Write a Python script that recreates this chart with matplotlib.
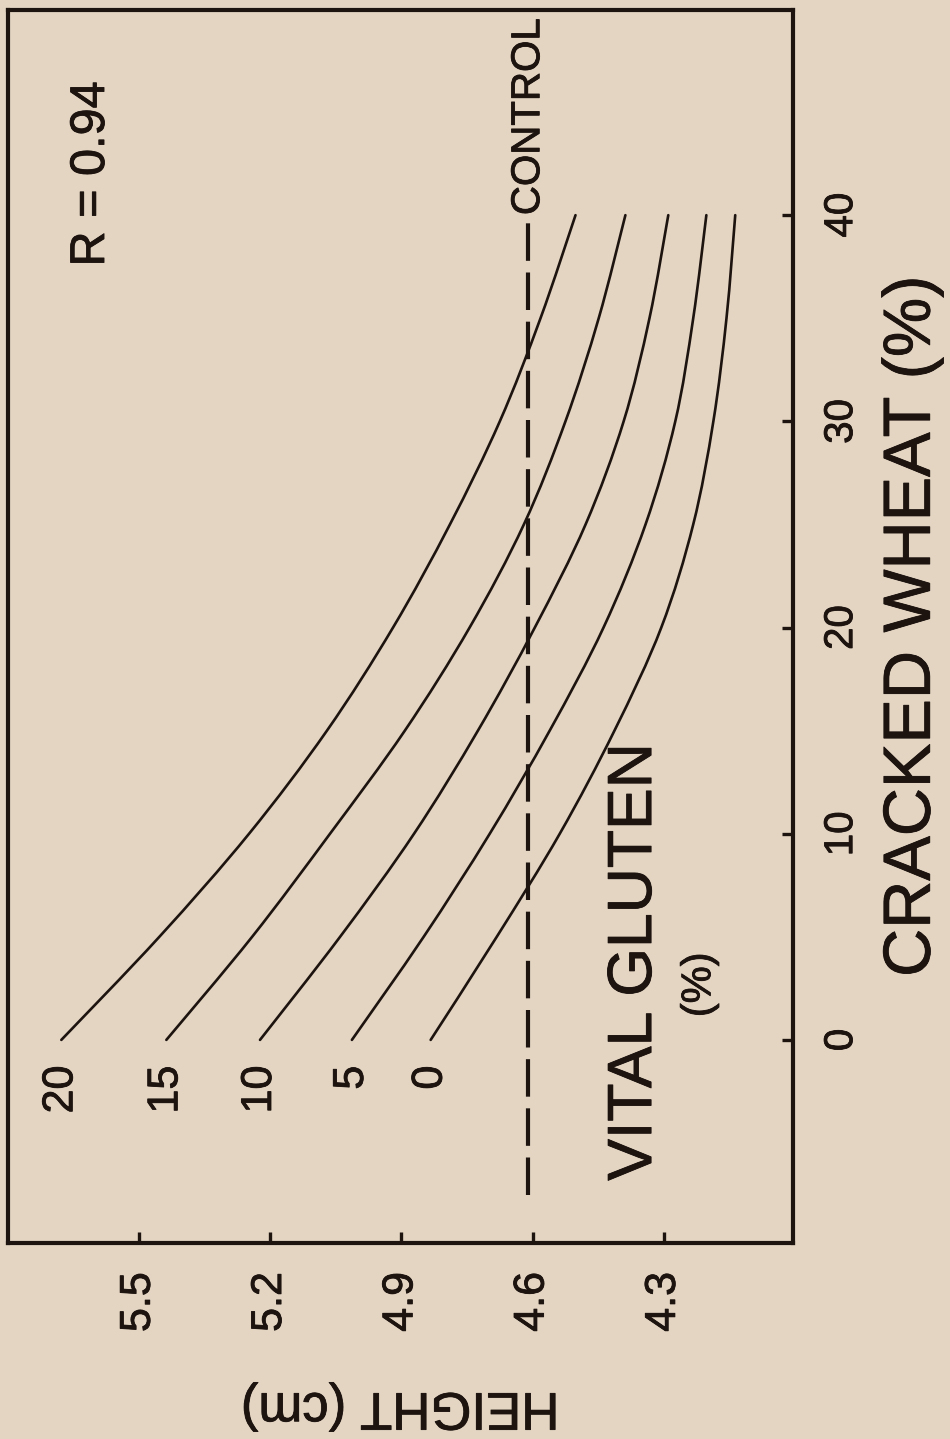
import matplotlib
matplotlib.use("Agg")
import matplotlib.pyplot as plt
import matplotlib.patheffects as pe
from matplotlib.path import Path
from matplotlib.patches import PathPatch

# Cracked wheat level (%), shared by every response curve
wheat_pct = [0, 5, 10, 15, 20, 25, 30, 35, 40]

# Predicted loaf height (cm) for each vital gluten level (%)
gluten_levels = ["20", "15", "10", "5", "0"]
height_g20 = [5.677, 5.453, 5.248, 5.070, 4.919, 4.789, 4.675, 4.582, 4.502]
height_g15 = [5.437, 5.241, 5.063, 4.892, 4.744, 4.620, 4.525, 4.449, 4.388]
height_g10 = [5.223, 5.040, 4.871, 4.725, 4.595, 4.479, 4.392, 4.333, 4.290]
height_g5 = [5.013, 4.849, 4.698, 4.561, 4.438, 4.342, 4.274, 4.233, 4.203]
height_g0 = [4.833, 4.682, 4.538, 4.413, 4.306, 4.233, 4.187, 4.157, 4.137]

control_height = 4.61
control_span = [-7.5, 40]
r_value = 0.94

height_ticks = [5.5, 5.2, 4.9, 4.6, 4.3]
wheat_ticks = [0, 10, 20, 30, 40]

BG = "#e3d5c2"
INK = "#1d130f"

plt.rcParams["font.family"] = ["Liberation Sans", "DejaVu Sans"]

# slightly heavier lettering
HEAVY = [pe.withStroke(linewidth=0.6, foreground=INK)]


def smooth_path(xs, ys):
    """Cubic Bezier path passing through every (x, y) point (Catmull-Rom)."""
    pts = list(zip(xs, ys))
    n = len(pts)
    verts = [pts[0]]
    codes = [Path.MOVETO]
    for i in range(n - 1):
        p0 = pts[i - 1] if i > 0 else pts[i]
        p1 = pts[i]
        p2 = pts[i + 1]
        p3 = pts[i + 2] if i + 2 < n else pts[i + 1]
        c1 = (p1[0] + (p2[0] - p0[0]) / 6, p1[1] + (p2[1] - p0[1]) / 6)
        c2 = (p2[0] - (p3[0] - p1[0]) / 6, p2[1] - (p3[1] - p1[1]) / 6)
        verts += [c1, c2, p2]
        codes += [Path.CURVE4] * 3
    return Path(verts, codes)


fig = plt.figure(figsize=(9.5, 14.39), dpi=100)
fig.patch.set_facecolor(BG)
W, H = 950, 1439
ax = fig.add_axes([7.5 / W, (H - 1243) / H, (793 - 7.5) / W, (1243 - 10) / H])
ax.set_facecolor(BG)

# Height runs along the horizontal axis (decreasing to the right),
# cracked wheat runs upward, all lettering turned a quarter turn.
ax.set_xlim(5.80, 4.005)
ax.set_ylim(-9.85, 49.95)

curves = [height_g20, height_g15, height_g10, height_g5, height_g0]
for level, heights in zip(gluten_levels, curves):
    ax.add_patch(PathPatch(smooth_path(heights, wheat_pct), fill=False,
                           edgecolor=INK, lw=1.9, capstyle="round"))
    ax.text(heights[0], -1.25, level, rotation=90, ha="center", va="top",
            fontsize=31, color=INK, path_effects=HEAVY)

ax.plot([control_height, control_height], control_span, color=INK, lw=3.0,
        linestyle=(0, (9, 2.8)))
ax.text(control_height, 40.0, "CONTROL", rotation=90, ha="center",
        va="bottom", fontsize=29, color=INK, path_effects=HEAVY)

ax.text(4.367, 3.78, "VITAL GLUTEN", rotation=90, ha="center", va="center",
        fontsize=45, color=INK, path_effects=HEAVY)
ax.text(4.219, 2.67, "(%)", rotation=90, ha="center", va="center",
        fontsize=30, color=INK, path_effects=HEAVY)
ax.text(5.608, 42.0, f"R = {r_value:.2f}", rotation=90, ha="center",
        va="center", fontsize=35, color=INK, path_effects=HEAVY)

for side in ax.spines.values():
    side.set_linewidth(3.0)
    side.set_color(INK)

ax.set_xticks(height_ticks)
ax.set_xticklabels([f"{v:.1f}" for v in height_ticks])
ax.yaxis.tick_right()
ax.set_yticks(wheat_ticks)
ax.set_yticklabels([str(v) for v in wheat_ticks])
ax.tick_params(axis="both", direction="in", length=8, width=2.4, color=INK,
               labelcolor=INK)
ax.tick_params(axis="x", labelrotation=90, labelsize=31, pad=21)
ax.tick_params(axis="y", labelrotation=90, labelsize=29, pad=21)
for lbl in ax.get_yticklabels():
    lbl.set_va("center")
for lbl in ax.get_xticklabels() + ax.get_yticklabels():
    lbl.set_path_effects(HEAVY)

ax.set_xlabel("HEIGHT (cm)", rotation=180, fontsize=38, color=INK)
ax.xaxis.set_label_coords(0.5, -0.113)
ax.yaxis.set_label_position("right")
ax.set_ylabel("CRACKED WHEAT (%)", rotation=90, fontsize=48, color=INK)
ax.yaxis.set_label_coords(1.113, 0.5)
ax.xaxis.label.set_path_effects(HEAVY)
ax.yaxis.label.set_path_effects(HEAVY)

fig.savefig("out.png", dpi=100, facecolor=BG)
